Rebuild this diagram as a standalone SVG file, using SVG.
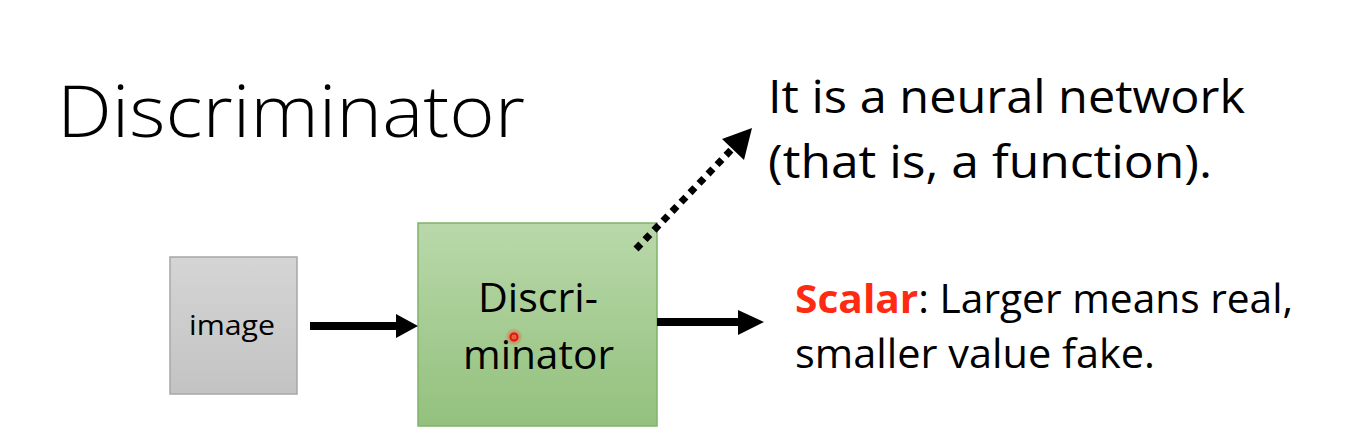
<svg xmlns="http://www.w3.org/2000/svg" width="1345" height="439" viewBox="0 0 1345 439">
  <style>
    .t { font-family: "Open Sans", "Noto Sans", "Liberation Sans", sans-serif; fill: #000; }
  </style>
  <defs>
    <linearGradient id="gGray" x1="0" y1="0" x2="0" y2="1">
      <stop offset="0" stop-color="#d5d5d5"/>
      <stop offset="1" stop-color="#c3c3c3"/>
    </linearGradient>
    <linearGradient id="gGreen" x1="0" y1="0" x2="0" y2="1">
      <stop offset="0" stop-color="#b9d8aa"/>
      <stop offset="1" stop-color="#93c17d"/>
    </linearGradient>
    <radialGradient id="glow">
      <stop offset="0" stop-color="#ff3b2a" stop-opacity="0.9"/>
      <stop offset="1" stop-color="#ff3b2a" stop-opacity="0"/>
    </radialGradient>
  </defs>
  <rect width="1345" height="439" fill="#ffffff"/>

  <g id="title">
    <text class="t" x="57" y="137" font-size="72" font-weight="300" textLength="468" lengthAdjust="spacingAndGlyphs">Discriminator</text>
  </g>

  <g id="image">
    <rect x="170" y="257" width="127" height="137" fill="url(#gGray)" stroke="#a6a6a6" stroke-width="1.5"/>
    <text class="t" x="189" y="335" font-size="28" textLength="86" lengthAdjust="spacingAndGlyphs">image</text>
  </g>

  <g id="discriminator">
    <rect x="418" y="223" width="239" height="203" fill="url(#gGreen)" stroke="#7fb36a" stroke-width="1.5"/>
    <text class="t" x="478" y="312" font-size="40" textLength="120" lengthAdjust="spacingAndGlyphs">Discri-</text>
    <text class="t" x="463" y="369" font-size="40" textLength="151" lengthAdjust="spacingAndGlyphs">minator</text>
  </g>

  <g id="note-function">
    <text class="t" x="768" y="113" font-size="46" textLength="477" lengthAdjust="spacingAndGlyphs">It is a neural network</text>
    <text class="t" x="768" y="178" font-size="46" textLength="444" lengthAdjust="spacingAndGlyphs">(that is, a function).</text>
  </g>

  <g id="note-scalar">
    <text class="t" x="795" y="313" font-size="40" textLength="498" lengthAdjust="spacingAndGlyphs"><tspan fill="#ff2a12" font-weight="bold">Scalar</tspan>: Larger means real,</text>
    <text class="t" x="795" y="368" font-size="40" textLength="360" lengthAdjust="spacingAndGlyphs">smaller value fake.</text>
  </g>

  <g id="connectors">
    <line x1="310" y1="326" x2="398" y2="326" stroke="#000" stroke-width="8"/>
    <polygon points="396,314 418,326 396,338" fill="#000"/>
    <line x1="657" y1="322" x2="740" y2="322" stroke="#000" stroke-width="8"/>
    <polygon points="738,310 764,322 738,335" fill="#000"/>
    <line x1="636" y1="249" x2="733" y2="148" stroke="#000" stroke-width="7" stroke-dasharray="7 6"/>
    <polygon points="752,128 744,160 722,139" fill="#000"/>
  </g>

  <g id="pointer">
    <circle cx="514" cy="337" r="9" fill="url(#glow)"/>
    <circle cx="514" cy="337" r="3.5" fill="none" stroke="#e3120b" stroke-width="2"/>
  </g>
</svg>
